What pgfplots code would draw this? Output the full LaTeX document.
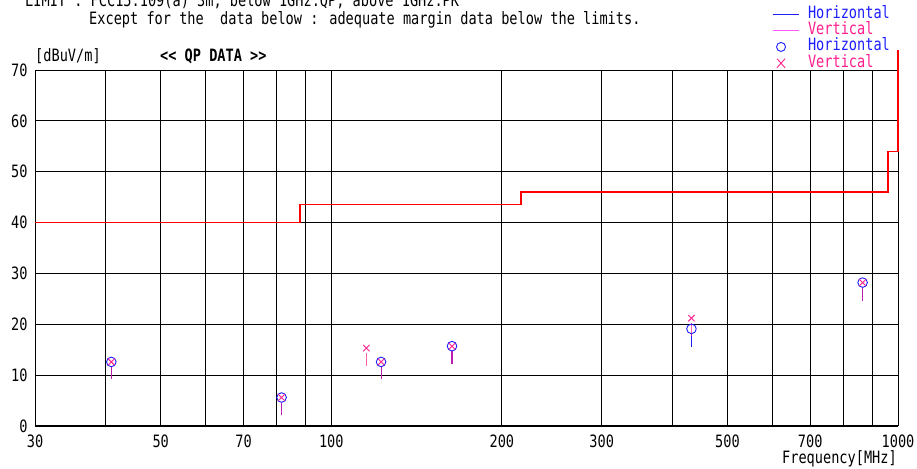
\documentclass[border=0pt]{standalone}
\usepackage{fontspec}
\usepackage{pgfplots}
\pgfplotsset{compat=1.18}
\newfontfamily\gfont[FakeStretch=0.80]{DejaVu Sans Mono}
\newcommand\gf{\gfont\fontsize{17pt}{20pt}\selectfont}
\definecolor{hblue}{RGB}{30,30,255}
\definecolor{vpink}{RGB}{255,30,140}
\definecolor{vline}{RGB}{255,90,255}
\definecolor{limred}{RGB}{255,0,0}
\pgfplotsset{
  hleg/.style={legend image code/.code={\draw[hblue, line width=1pt] (0pt,0pt) -- (26pt,0pt);}},
  vleg/.style={legend image code/.code={\draw[vline, line width=1pt] (0pt,0pt) -- (26pt,0pt);}},
  oleg/.style={legend image code/.code={\draw[hblue, line width=0.9pt] (8.5pt,0pt) circle[radius=4.5pt];}},
  xleg/.style={legend image code/.code={\draw[vpink, line width=0.9pt] (4.5pt,-4.5pt) -- (12.5pt,4.5pt) (4.5pt,4.5pt) -- (12.5pt,-4.5pt);}},
}
\begin{document}
\begin{tikzpicture}
\path[use as bounding box] (0,0) rectangle (917pt,468pt);
\node[anchor=base west, inner sep=0pt, font=\gf] at (25pt,461pt) {LIMIT : FCC15.109(a) 3m, below 1GHz:QP, above 1GHz:PK};
\node[anchor=base west, inner sep=0pt, font=\gf] at (89pt,443pt) {Except for the~~data below : adequate margin data below the limits.};
\begin{axis}[
  at={(35pt,42pt)}, anchor=south west,
  scale only axis, width=863pt, height=356pt,
  xmode=log, xmin=30, xmax=1000, ymin=0, ymax=70,
  clip=false,
  xtick={30,50,70,100,200,300,500,700,1000},
  xticklabels={30,50,70,100,200,300,500,700,1000},
  minor xtick={40,60,80,90,400,600,800,900},
  ytick={0,10,...,70},
  grid=both,
  major grid style={black, line width=0.8pt},
  minor grid style={black, line width=0.8pt},
  major tick length=0pt, minor tick length=0pt,
  axis line style={black, line width=1pt},
  ticklabel style={font=\gf},
  /pgf/number format/assume math mode=true,
  xticklabel style={yshift=-5pt},
  yticklabel style={xshift=-4pt},
  xlabel={Frequency[MHz]},
  xlabel style={font=\gf, at={(axis description cs:0.9988,-0.1060)}, anchor=base east, inner sep=0pt},
  ylabel={[dBuV/m]},
  ylabel style={font=\gf, rotate=-90, at={(axis description cs:0,1.0225)}, anchor=base west, inner sep=0pt},
  legend style={draw=none, fill=none, inner sep=0pt, outer sep=0pt,
    at={(axis description cs:0.854,1.176)}, anchor=north west,
    font=\gf, row sep=2.3pt,
    nodes={inner sep=0pt, text height=11pt, text depth=3pt}},
  legend cell align=left,
]
\addlegendimage{hleg}
\addlegendentry{\hspace*{9pt}\textcolor{hblue}{Horizontal}}
\addlegendimage{vleg}
\addlegendentry{\hspace*{9pt}\textcolor{vpink}{Vertical}}
\addlegendimage{oleg}
\addlegendentry{\hspace*{9pt}\textcolor{hblue}{Horizontal}}
\addlegendimage{xleg}
\addlegendentry{\hspace*{9pt}\textcolor{vpink}{Vertical}}

% limit line
\addplot[limred, line width=1.3pt, forget plot] coordinates {
  (30,40) (88,40) (88,43.5) (216,43.5) (216,46) (960,46) (960,54) (1000,54) (1000,74)};

% sticks (horizontal)
\addplot[hblue, line width=1.1pt, unbounded coords=jump, forget plot] coordinates {
  (40.9,11.6) (40.9,9.2) (40.9,nan)
  (81.7,4.6) (81.7,2.1) (81.7,nan)
  (122.4,11.6) (122.4,9.2) (122.4,nan)
  (163.3,14.7) (163.3,12.1) (163.3,nan)
  (432,18.1) (432,15.6) (432,nan)
  (866,27.2) (866,24.6)};
% sticks (vertical)
\addplot[vpink, line width=1.1pt, opacity=0.7, unbounded coords=jump, forget plot] coordinates {
  (40.9,11.6) (40.9,9.2) (40.9,nan)
  (81.7,4.6) (81.7,2.1) (81.7,nan)
  (115.3,14.3) (115.3,11.8) (115.3,nan)
  (122.4,11.6) (122.4,9.2) (122.4,nan)
  (163.3,14.7) (163.3,12.1) (163.3,nan)
  (432,20.2) (432,17.7) (432,nan)
  (866,27.2) (866,24.6)};

% horizontal data
\addplot[only marks, mark=o, hblue, mark size=4.8pt, line width=0.9pt, forget plot] coordinates {
  (40.9,12.6) (81.7,5.6) (122.4,12.6) (163.3,15.7) (432,19.1) (866,28.2)};
% vertical data
\addplot[only marks, mark=x, vpink, mark size=4.5pt, line width=0.9pt, forget plot] coordinates {
  (40.9,12.6) (81.7,5.6) (115.3,15.3) (122.4,12.6) (163.3,15.7) (432,21.2) (866,28.2)};

\node[anchor=base west, inner sep=0pt, font=\gf\bfseries] at (axis description cs:0.1448,1.0225) {<{}< QP DATA >{}>};
\end{axis}
\end{tikzpicture}
\end{document}
